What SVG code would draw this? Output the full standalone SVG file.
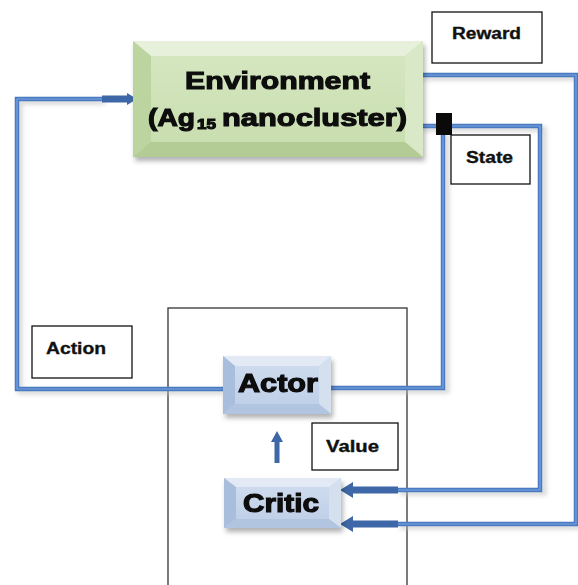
<svg xmlns="http://www.w3.org/2000/svg" width="578" height="585" viewBox="0 0 578 585">
<style>
.wire{fill:none;stroke:#4a7bc2;stroke-width:4.5;stroke-linejoin:miter}
.wire-in{fill:none;stroke:#7aa3de;stroke-width:1.2}
.shadow{fill:none;stroke:#bdbdbd;stroke-width:5}
.thick{fill:#3d67a6;stroke:none}
.lbl{fill:#fff;stroke:#111;stroke-width:1.3}
.lt{font-family:"Liberation Sans",Arial,sans-serif;font-weight:bold;font-size:16px;fill:#111;stroke:#111;stroke-width:0.35}
.big{font-family:"Liberation Sans",Arial,sans-serif;font-weight:bold;fill:#0a0a0a;stroke:#0a0a0a;stroke-width:1.1}
</style>
<defs>
<linearGradient id="gface" x1="0" y1="0" x2="0" y2="1"><stop offset="0" stop-color="#d6e8c2"/><stop offset="1" stop-color="#c7dcae"/></linearGradient>
<linearGradient id="bface" x1="0" y1="0" x2="0" y2="1"><stop offset="0" stop-color="#d2def0"/><stop offset="1" stop-color="#bccde6"/></linearGradient>
<filter id="ds" x="-10%" y="-10%" width="130%" height="140%"><feDropShadow dx="2" dy="4" stdDeviation="2.5" flood-color="#000" flood-opacity="0.3"/></filter>
<filter id="blur" x="-5%" y="-5%" width="110%" height="110%"><feGaussianBlur stdDeviation="2"/></filter>
</defs>

<g id="outer-frame"><rect x="168" y="308" width="239" height="290" fill="none" stroke="#333" stroke-width="1.3"/></g>

<g id="connectors">
  <g filter="url(#blur)" opacity="0.6">
    <path class="shadow" d="M223,392 H20 V102 H105"/>
    <path class="shadow" d="M423,78 H580 V527 H400"/>
    <path class="shadow" d="M423,129 H544 V493 H400"/>
    <path class="shadow" d="M331,391 H447 V135"/>
  </g>
  <!-- Action -->
  <path class="wire" d="M223,389 H17 V99 H104"/>
  <path class="wire-in" d="M223,389 H17 V99 H104"/>
  <path class="thick" d="M102,95.5 H127 V93 L137,99 L127,105 V102.5 H102 Z"/>
  <!-- Reward -->
  <path class="wire" d="M423,75 H576 V524 H398"/>
  <path class="wire-in" d="M423,75 H576 V524 H398"/>
  <path class="thick" d="M398,520.5 H353 V516 L340,524 L353,532 V527.5 H398 Z"/>
  <!-- State to critic -->
  <path class="wire" d="M423,126 H540 V490 H398"/>
  <path class="wire-in" d="M423,126 H540 V490 H398"/>
  <path class="thick" d="M398,486.5 H353 V482 L340,490 L353,498 V493.5 H398 Z"/>
  <!-- State to actor -->
  <path class="wire" d="M443,130 V388 H331"/>
  <path class="wire-in" d="M443,130 V388 H331"/>
  <rect x="436" y="113" width="16" height="22" fill="#0a0a0a"/>
  <!-- Value -->
  <path class="thick" d="M274.5,463 V442 H271 L277,431 L283,442 H279.5 V463 Z"/>
</g>

<g id="environment" filter="url(#ds)">
  <rect x="133" y="41" width="290" height="116" fill="url(#gface)"/>
  <polygon points="133,41 423,41 405,56 151,56" fill="#e6f0da"/>
  <polygon points="133,41 151,56 151,142 133,157" fill="#bcd4a0"/>
  <polygon points="423,41 423,157 405,142 405,56" fill="#d9e9c8"/>
  <polygon points="133,157 151,142 405,142 423,157" fill="#b3cc95"/>
  <text class="big" x="185" y="89" font-size="24" textLength="185" lengthAdjust="spacingAndGlyphs">Environment</text>
  <text class="big" x="148" y="126" font-size="24" textLength="47" lengthAdjust="spacingAndGlyphs">(Ag</text>
  <text class="big" x="197" y="129" font-size="14" textLength="19" lengthAdjust="spacingAndGlyphs" stroke-width="0.6">15</text>
  <text class="big" x="222" y="126" font-size="24" textLength="185" lengthAdjust="spacingAndGlyphs">nanocluster)</text>
</g>

<g id="actor" filter="url(#ds)">
  <rect x="223" y="356" width="108" height="58" fill="url(#bface)"/>
  <polygon points="223,356 331,356 319,366 235,366" fill="#e3eaf5"/>
  <polygon points="223,356 235,366 235,404 223,414" fill="#a8bedc"/>
  <polygon points="331,356 331,414 319,404 319,366" fill="#d5e0ef"/>
  <polygon points="223,414 235,404 319,404 331,414" fill="#b1c5e0"/>
  <text class="big" x="238" y="392" font-size="25" textLength="80" lengthAdjust="spacingAndGlyphs">Actor</text>
</g>

<g id="critic" filter="url(#ds)">
  <rect x="224" y="478" width="117" height="50" fill="url(#bface)"/>
  <polygon points="224,478 341,478 329,487 236,487" fill="#e3eaf5"/>
  <polygon points="224,478 236,487 236,519 224,528" fill="#a8bedc"/>
  <polygon points="341,478 341,528 329,519 329,487" fill="#d5e0ef"/>
  <polygon points="224,528 236,519 329,519 341,528" fill="#b1c5e0"/>
  <text class="big" x="243" y="512" font-size="25" textLength="76" lengthAdjust="spacingAndGlyphs">Critic</text>
</g>

<g id="reward-label"><rect class="lbl" x="432" y="12" width="110" height="51"/><text class="lt" x="452" y="39" textLength="69" lengthAdjust="spacingAndGlyphs">Reward</text></g>
<g id="state-label"><rect class="lbl" x="451" y="135" width="79" height="49"/><text class="lt" x="466" y="163" textLength="47" lengthAdjust="spacingAndGlyphs">State</text></g>
<g id="action-label"><rect class="lbl" x="32" y="326" width="100" height="52"/><text class="lt" x="46" y="354" textLength="60" lengthAdjust="spacingAndGlyphs">Action</text></g>
<g id="value-label"><rect class="lbl" x="312" y="423" width="86" height="47"/><text class="lt" x="326" y="452" textLength="53" lengthAdjust="spacingAndGlyphs">Value</text></g>
</svg>
